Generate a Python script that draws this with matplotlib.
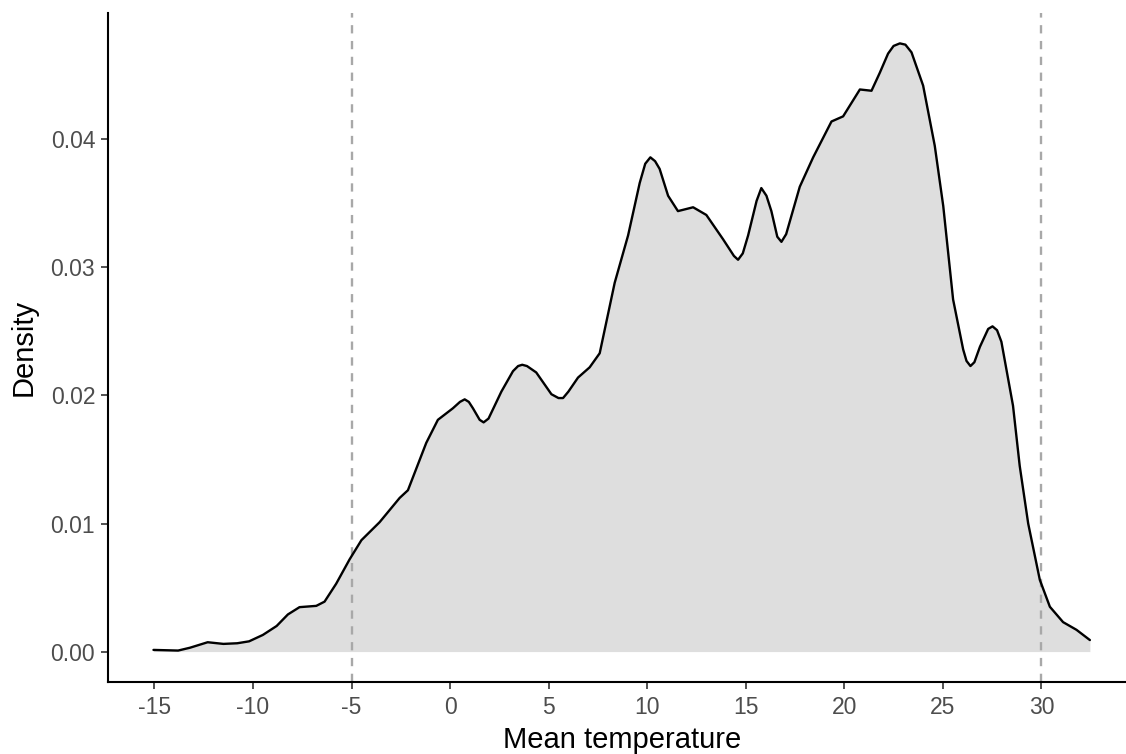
import matplotlib.pyplot as plt
import numpy as np

plt.rcParams["font.family"] = ["Liberation Sans", "DejaVu Sans"]

# density curve (x = mean temperature, y = density)
temp = [
    -15.05, -13.8, -13.2, -12.3, -11.5, -10.8, -10.2, -9.5, -8.8, -8.23,
    -7.64, -6.79, -6.37, -5.78, -5.1, -4.5, -3.58, -2.56, -2.14, -1.21,
    -0.62, 0.14, 0.5, 0.74, 0.95, 1.16, 1.5, 1.70, 1.95, 2.60,
    3.19, 3.45, 3.66, 3.9, 4.37, 5.14, 5.5, 5.73, 6.0, 6.49,
    7.08, 7.59, 8.35, 9.03, 9.62, 9.9, 10.16, 10.4, 10.63, 11.06,
    11.56, 12.33, 13.0, 13.85, 14.4, 14.61, 14.85, 15.12, 15.55, 15.79,
    16.05, 16.3, 16.6, 16.81, 17.05, 17.74, 18.42, 19.35, 19.94, 20.79,
    21.38, 21.8, 22.22, 22.5, 22.82, 23.1, 23.41, 24.0, 24.59, 25.02,
    25.52, 26.03, 26.2, 26.40, 26.6, 26.88, 27.3, 27.52, 27.75, 27.97,
    28.56, 28.9, 29.33, 29.92, 30.43, 31.1, 31.78, 32.46,
]
density = [
    0.00013, 0.00008, 0.0003, 0.00073, 0.0006, 0.00065, 0.0008, 0.0013, 0.0020, 0.0029,
    0.00347, 0.00357, 0.0039, 0.0053, 0.0072, 0.0087, 0.0101, 0.0120, 0.0126, 0.0163,
    0.0181, 0.0190, 0.0195, 0.0197, 0.0195, 0.0190, 0.0181, 0.0179, 0.0182, 0.0203,
    0.0219, 0.0223, 0.0224, 0.0223, 0.0218, 0.0201, 0.0198, 0.0198, 0.0203, 0.0214,
    0.0222, 0.0233, 0.0288, 0.0325, 0.0366, 0.0381, 0.0386, 0.0383, 0.0377, 0.0356,
    0.0344, 0.0347, 0.0341, 0.0322, 0.0309, 0.0306, 0.0311, 0.0325, 0.0352, 0.0362,
    0.0356, 0.0344, 0.0324, 0.0320, 0.0326, 0.0363, 0.0386, 0.0414, 0.0418, 0.0439,
    0.0438, 0.0452, 0.0467, 0.0473, 0.0475, 0.0474, 0.0468, 0.0442, 0.0395, 0.0348,
    0.0275, 0.0236, 0.0227, 0.0223, 0.0226, 0.0238, 0.0252, 0.0254, 0.0251, 0.0242,
    0.0192, 0.0145, 0.0100, 0.0056, 0.0035, 0.0023, 0.0017, 0.0009,
]
cutoffs = [-5, 30]

x_ticks = [-15, -10, -5, 0, 5, 10, 15, 20, 25, 30]
y_ticks = [0.00, 0.01, 0.02, 0.03, 0.04]

fig = plt.figure(figsize=(11.26, 7.54), dpi=100)
ax = fig.add_axes([0.0956, 0.0955, 0.9146, 0.8873])

x = np.array(temp)
y = np.array(density)
ax.fill_between(x, 0, y, color="#DEDEDE", linewidth=0, zorder=1)
for c in cutoffs:
    ax.axvline(c, color="#A8A8A8", linestyle=(0, (3.5, 3.2)), linewidth=1.7, zorder=2)
ax.plot(x, y, color="black", linewidth=1.7, zorder=3,
        solid_joinstyle="round", solid_capstyle="round")

ax.set_xlim(-17.375, 34.875)
ax.set_ylim(-0.002375, 0.049875)
ax.set_xticks(x_ticks)
ax.set_xticklabels([str(t) for t in x_ticks])
ax.set_yticks(y_ticks)
ax.set_yticklabels([f"{t:.2f}" for t in y_ticks])

for side in ["top", "right"]:
    ax.spines[side].set_visible(False)
for side in ["left", "bottom"]:
    ax.spines[side].set_linewidth(1.5)
    ax.spines[side].set_color("black")

ax.tick_params(axis="both", length=5, width=1.2, color="#333333",
               labelcolor="#4D4D4D", labelsize=16.5)
ax.tick_params(axis="x", pad=5)
ax.tick_params(axis="y", pad=4)
ax.set_xlabel("Mean temperature", fontsize=21, color="black", labelpad=5)
ax.set_ylabel("Density", fontsize=21, color="black", labelpad=9)

fig.savefig("out.png", dpi=100)
